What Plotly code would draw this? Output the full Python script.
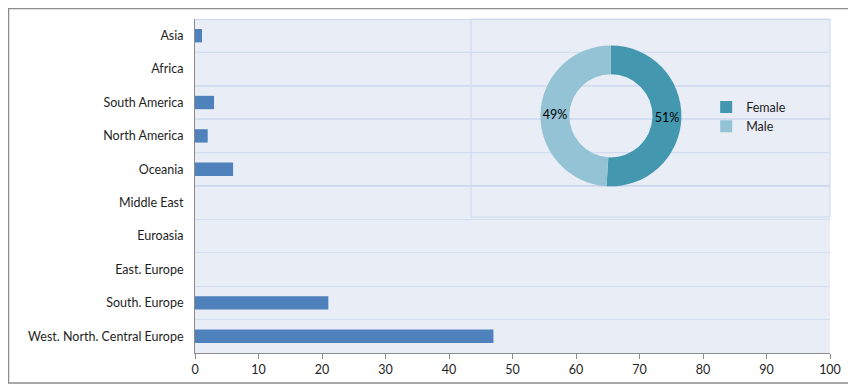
import plotly.graph_objects as go

regions = ["Asia", "Africa", "South America", "North America", "Oceania",
           "Middle East", "Euroasia", "East. Europe", "South. Europe",
           "West. North. Central Europe"]
counts = [1.1, 0, 3, 2, 6, 0, 0, 0, 21, 47]

genders = ["Female", "Male"]
gender_share = [51, 49]

x_ticks = [0, 10, 20, 30, 40, 50, 60, 70, 80, 90, 100]

FONT = "Lato"
n = len(regions)
ypos = list(range(n))

fig = go.Figure()
fig.add_trace(go.Bar(
    x=counts, y=ypos, orientation="h",
    marker=dict(color="#4f81bd", line=dict(width=0)),
    showlegend=False,
))
fig.add_trace(go.Pie(
    labels=genders, values=gender_share, hole=0.59,
    sort=False, direction="clockwise", rotation=0,
    marker=dict(colors=["#4398b0", "#93c3d4"], line=dict(width=0)),
    textinfo="percent", textposition="inside", insidetextorientation="horizontal",
    textfont=dict(color="black", size=12.5, family=FONT),
    domain=dict(x=[0.544, 0.766], y=[0.499, 0.921]),
    showlegend=True,
))

shapes = []
# outer frame
shapes.append(dict(type="rect", xref="paper", yref="paper",
                   x0=-0.2937, x1=1.030, y0=-0.0898, y1=1.0314,
                   line=dict(color="#8c8c8c", width=1.5), layer="below"))
# stronger upper grid lines (under the inset)
for k in range(6):
    yb = k - 0.5
    shapes.append(dict(type="line", xref="paper", yref="y", x0=0, x1=1,
                       y0=yb, y1=yb, line=dict(color="#a9bfe6", width=1),
                       layer="below"))
# inset frame
shapes.append(dict(type="rect", xref="paper", yref="paper",
                   x0=0.4346, x1=1.0, y0=0.407, y1=1.0,
                   line=dict(color="#cbd7ee", width=1), layer="below"))

fig.update_layout(
    width=856, height=389,
    margin=dict(l=187, r=34, t=11, b=44),
    paper_bgcolor="white", plot_bgcolor="#e9edf5",
    font=dict(family=FONT, size=12.5, color="#1e1e1e"),
    bargap=0.6,
    shapes=shapes,
    uniformtext=dict(minsize=12.5, mode="show"),
    legend=dict(x=0.805, y=0.78, xanchor="left", yanchor="top",
                bgcolor="rgba(0,0,0,0)", font=dict(size=12.5, family=FONT)),
    xaxis=dict(range=[0, 100], tickvals=x_ticks, showgrid=False, zeroline=False,
               showline=True, linecolor="#8c8c8c", linewidth=1,
               ticks="outside", ticklen=5, tickcolor="#8c8c8c"),
    yaxis=dict(range=[n - 0.5, -0.5], tickvals=ypos, ticktext=regions,
               showgrid=False, zeroline=False,
               showline=True, linecolor="#8c8c8c", linewidth=1,
               ticks="", ticklabelstandoff=8,
               minor=dict(tickvals=[k + 0.5 for k in range(n - 1)],
                          showgrid=True, gridcolor="#d3ddef", gridwidth=1)),
)

fig.write_html("out.html")
